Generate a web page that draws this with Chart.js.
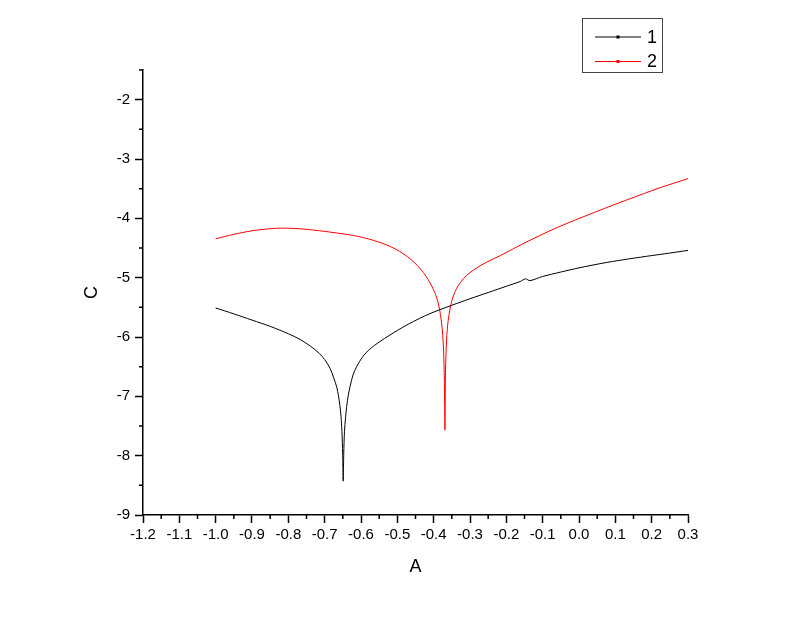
<!DOCTYPE html>
<html>
<head>
<meta charset="utf-8">
<script src="https://cdn.jsdelivr.net/npm/chart.js@4/dist/chart.umd.min.js"></script>
<style>
  body { margin: 0; background: #fff; }
  #wrap { width: 800px; height: 617px; }
</style>
</head>
<body>
<div id="wrap"><canvas id="chart" width="800" height="617"></canvas></div>
<script>
// series 1 (black)
const x1 = [-1.00, -0.95, -0.90, -0.85, -0.80, -0.768, -0.74, -0.715, -0.70, -0.685, -0.675, -0.667, -0.662, -0.658,
            -0.655, -0.6525, -0.6505, -0.649, -0.6475, -0.6455, -0.6425, -0.6394, -0.635, -0.6303, -0.622, -0.612,
            -0.595, -0.575, -0.55, -0.52, -0.50, -0.47, -0.44, -0.41, -0.383, -0.35, -0.30, -0.25, -0.20, -0.162,
            -0.147, -0.135, -0.10, -0.05, 0.00, 0.066, 0.12, 0.186, 0.25, 0.30];
const y1 = [-5.51, -5.61, -5.715, -5.82, -5.945, -6.04, -6.15, -6.275, -6.38, -6.53, -6.69, -6.84, -6.99, -7.16,
            -7.34, -7.59, -7.97, -8.43, -7.97, -7.59, -7.36, -7.17, -6.98, -6.84, -6.64, -6.50,
            -6.33, -6.20, -6.085, -5.965, -5.89, -5.785, -5.69, -5.605, -5.54, -5.465, -5.355, -5.25, -5.145, -5.065,
            -5.02, -5.05, -4.98, -4.905, -4.835, -4.755, -4.70, -4.64, -4.585, -4.54];

// series 2 (red)
const x2 = [-1.00, -0.95, -0.90, -0.85, -0.815, -0.76, -0.70, -0.63, -0.59, -0.548, -0.52, -0.493, -0.465, -0.438,
            -0.42, -0.401, -0.39, -0.383, -0.377, -0.3735, -0.372, -0.3705, -0.369, -0.3675, -0.3645, -0.36,
            -0.3505, -0.337, -0.325, -0.309, -0.29, -0.272, -0.245, -0.217, -0.18, -0.135, -0.08, -0.025,
            0.03, 0.08, 0.14, 0.18, 0.22, 0.26, 0.30];
const y2 = [-4.345, -4.27, -4.21, -4.175, -4.165, -4.18, -4.22, -4.28, -4.33, -4.406, -4.473, -4.56, -4.68, -4.84,
            -4.985, -5.195, -5.37, -5.56, -5.83, -6.12, -6.35, -6.75, -7.57, -6.60, -6.05, -5.72,
            -5.40, -5.18, -5.07, -4.96, -4.87, -4.80, -4.71, -4.63, -4.51, -4.37, -4.21, -4.065,
            -3.93, -3.81, -3.67, -3.58, -3.49, -3.41, -3.33];

const seriesNames = ['1', '2'];
const seriesColors = ['#000000', '#ff0000'];

const xTicks = [-1.2, -1.1, -1.0, -0.9, -0.8, -0.7, -0.6, -0.5, -0.4, -0.3, -0.2, -0.1, 0.0, 0.1, 0.2, 0.3];
const yTicks = [-9, -8, -7, -6, -5, -4, -3, -2];

function pts(xs, ys) {
    return xs.map((x, i) => ({ x: x, y: ys[i] }));
}

const FONT = '"Liberation Sans", Arial, sans-serif';

// minor ticks and the boxed legend
const extras = {
    id: 'extras',
    afterDraw(chart) {
        const ctx = chart.ctx;
        const xs = chart.scales.x, ys = chart.scales.y;
        const area = chart.chartArea;
        ctx.save();
        ctx.strokeStyle = '#000';
        ctx.lineWidth = 1.5;
        ctx.beginPath();
        for (let i = 0; i < xTicks.length - 1; i++) {
            const px = xs.getPixelForValue((xTicks[i] + xTicks[i + 1]) / 2);
            ctx.moveTo(px, area.bottom);
            ctx.lineTo(px, area.bottom + 4);
        }
        for (let i = 0; i < yTicks.length; i++) {
            const py = ys.getPixelForValue(yTicks[i] + 0.5);
            ctx.moveTo(area.left - 4, py);
            ctx.lineTo(area.left, py);
        }
        ctx.stroke();

        // legend
        ctx.lineWidth = 1;
        ctx.strokeStyle = '#444';
        ctx.strokeRect(582.5, 18.5, 80, 54);
        ctx.font = '18px ' + FONT;
        ctx.textBaseline = 'middle';
        seriesNames.forEach((name, i) => {
            const y = 37 + i * 24.5;
            ctx.strokeStyle = seriesColors[i];
            ctx.beginPath();
            ctx.moveTo(595, y);
            ctx.lineTo(641, y);
            ctx.stroke();
            ctx.fillStyle = seriesColors[i];
            ctx.fillRect(616.5, y - 1.5, 3, 3);
            ctx.fillStyle = '#000';
            ctx.fillText(name, 647, y + 1);
        });
        ctx.restore();
    }
};

new Chart(document.getElementById('chart'), {
    type: 'scatter',
    data: {
        datasets: [
            {
                label: seriesNames[0],
                data: pts(x1, y1),
                showLine: true,
                borderColor: seriesColors[0],
                borderWidth: 1,
                pointRadius: 0,
                tension: 0.3
            },
            {
                label: seriesNames[1],
                data: pts(x2, y2),
                showLine: true,
                borderColor: seriesColors[1],
                borderWidth: 1,
                pointRadius: 0,
                tension: 0.3
            }
        ]
    },
    options: {
        responsive: false,
        animation: false,
        layout: { padding: { left: 0, right: 112, top: 70, bottom: 0 } },
        plugins: {
            legend: { display: false },
            tooltip: { enabled: false }
        },
        scales: {
            x: {
                type: 'linear',
                min: -1.2,
                max: 0.3,
                afterBuildTicks: s => { s.ticks = xTicks.map(v => ({ value: v })); },
                afterFit: s => { s.height = 102; },
                grid: { drawOnChartArea: false, drawTicks: true, tickLength: 8, tickWidth: 1.5, tickColor: '#000' },
                border: { display: true, color: '#000', width: 1.5 },
                ticks: {
                    color: '#000',
                    padding: 3,
                    maxRotation: 0,
                    autoSkip: false,
                    font: { family: FONT, size: 15 },
                    callback: v => {
                        const r = Math.round(v * 10) / 10;
                        return (r === 0 ? 0 : r).toFixed(1);
                    }
                },
                title: {
                    display: true,
                    text: 'A',
                    color: '#000',
                    font: { family: FONT, size: 18 },
                    padding: { bottom: 39 }
                }
            },
            y: {
                type: 'linear',
                min: -9,
                max: -1.5,
                afterBuildTicks: s => { s.ticks = yTicks.map(v => ({ value: v })); },
                afterFit: s => { s.width = 143; },
                grid: { drawOnChartArea: false, drawTicks: true, tickLength: 8, tickWidth: 1.5, tickColor: '#000' },
                border: { display: true, color: '#000', width: 1.5 },
                ticks: {
                    color: '#000',
                    padding: 5,
                    autoSkip: false,
                    font: { family: FONT, size: 15 },
                    callback: v => String(v)
                },
                title: {
                    display: true,
                    text: 'C',
                    color: '#000',
                    font: { family: FONT, size: 18 },
                    padding: { top: 81 }
                }
            }
        }
    },
    plugins: [extras]
});
</script>
</body>
</html>
